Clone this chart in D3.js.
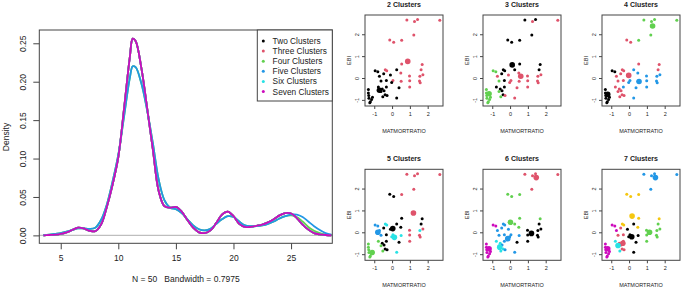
<!DOCTYPE html>
<html>
<head>
<meta charset="utf-8">
<script src="https://cdn.jsdelivr.net/npm/d3@7"></script>
<style>
  body { margin: 0; background: #fff; }
  text { font-family: "Liberation Sans", Arial, sans-serif; fill: #222; }
</style>
</head>
<body>
<svg id="chart" width="685" height="288"></svg>
<script>
// ---- density plot data ----
const densX = [3.5, 4, 4.5, 5, 5.5, 6, 6.5, 7, 7.5, 8, 8.5, 9, 9.5, 10, 10.5, 11, 11.25, 11.5, 12, 12.5, 13, 13.5, 14, 14.5, 15, 15.5, 16, 16.5, 17, 17.5, 18, 18.5, 19, 19.5, 20, 20.5, 21, 21.5, 22, 22.5, 23, 23.5, 24, 24.5, 25, 25.5, 26, 26.5, 27, 27.5, 28, 28.5];
const densSeven = [0, 0.0005, 0.001, 0.002, 0.004, 0.007, 0.010, 0.009, 0.006, 0.0055, 0.014, 0.037, 0.066, 0.102, 0.165, 0.232, 0.256, 0.253, 0.218, 0.166, 0.112, 0.058, 0.038, 0.036, 0.037, 0.031, 0.020, 0.010, 0.004, 0.003, 0.0065, 0.016, 0.027, 0.031, 0.025, 0.015, 0.011, 0.011, 0.0125, 0.014, 0.017, 0.021, 0.026, 0.029, 0.0285, 0.0225, 0.014, 0.0075, 0.003, 0.0013, 0.0005, 0.0002];
const densFive = [0, 0.001, 0.002, 0.003, 0.005, 0.007, 0.009, 0.009, 0.0085, 0.010, 0.020, 0.040, 0.070, 0.105, 0.155, 0.205, 0.220, 0.219, 0.198, 0.163, 0.120, 0.073, 0.046, 0.036, 0.034, 0.029, 0.021, 0.013, 0.008, 0.0065, 0.0085, 0.015, 0.021, 0.025, 0.024, 0.018, 0.013, 0.012, 0.012, 0.013, 0.015, 0.018, 0.022, 0.025, 0.027, 0.027, 0.024, 0.018, 0.012, 0.007, 0.003, 0.001];
const densFour = [0, 0.001, 0.002, 0.003, 0.005, 0.007, 0.009, 0.009, 0.0085, 0.010, 0.020, 0.040, 0.070, 0.105, 0.155, 0.205, 0.220, 0.219, 0.198, 0.163, 0.120, 0.073, 0.046, 0.036, 0.034, 0.029, 0.021, 0.013, 0.008, 0.0065, 0.0085, 0.015, 0.021, 0.025, 0.024, 0.018, 0.013, 0.012, 0.012, 0.013, 0.015, 0.018, 0.022, 0.025, 0.026, 0.024, 0.018, 0.011, 0.006, 0.003, 0.001, 0.0003];
const densTwo = densSeven;
const densThree = densSeven;
const densSix = densSeven;

const seriesNames = ['Two Clusters', 'Three Clusters', 'Four Clusters', 'Five Clusters', 'Six Clusters', 'Seven Clusters'];
const seriesValues = [densTwo, densThree, densFour, densFive, densSix, densSeven];
const palette = ['#000000', '#DF536B', '#61D04F', '#2297E6', '#28E2E5', '#CD0BBC', '#F5C710'];
const densXTicks = [5, 10, 15, 20, 25];
const densYTicks = [0, 0.05, 0.10, 0.15, 0.20, 0.25];

// ---- scatter data: MATMORTRATIO (x) vs EBI (y), 50 countries ----
const ptX = [0.83, 1.26, 1.43, 2.68, 1.22, -0.13, 0.09, 0.54, 0.54, 1.69, 1.63, 1.73, 1.56, 0.98, 0.99, 1.54, 1.58, 0.99, 0.51, 0.49, 0.26, -0.38, -0.30, -0.09, 0.05, -0.47, -0.71, -0.32, -0.02, 0.39, 0.26, -0.62, -0.32, -0.77, -0.55, -0.62, -0.45, -0.39, -0.52, -0.28, -0.95, -0.80, -1.33, -1.33, -1.31, -1.30, -1.22, -1.15, -1.25, -1.10];
const ptY = [2.65, 2.58, 2.68, 2.64, 1.97, 1.74, 1.64, 1.73, 0.64, 0.62, 0.38, 0.15, 0.08, 0.09, -0.12, -0.14, -0.22, -0.41, -0.15, 0.23, 0.38, 0.38, 0.33, 0.14, -0.11, 0.20, 0.08, -0.11, -0.20, -0.45, -0.91, -0.14, -0.41, -0.41, -0.50, -0.62, -0.58, -0.76, -0.86, -0.80, 0.33, 0.29, -0.53, -0.68, -0.80, -0.92, -1.08, -0.98, -1.13, -0.88];

// cluster membership per panel (1 = black, 2 = red, 3 = green, 4 = blue, 5 = cyan, 6 = magenta, 7 = yellow)
const lab2 = [2,2,2,2,2, 2,2,2, 2,2,2,2,2,2,2,2,2,2,2,2, 1,2,2,1,2,1,1,1,1,1,1,1, 1,1,1,1,1,1,1,1, 1,1, 1,1,1,1,1,1,1,1];
const lab3 = [1,2,1,2,1, 1,1,1, 1,1,1,2,2,2,2,2,2,2,2,2, 1,1,1,2,2,1,2,1,2,2,2,3, 1,1,1,3,1,1,3,2, 3,3, 3,3,3,3,3,3,3,3];
const lab4 = [3,3,3,3,3, 2,2,3, 2,2,2,4,4,4,4,4,4,4,4,4, 4,2,2,2,4,2,2,2,4,4,4,2, 4,2,2,2,2,2,2,2, 1,1, 1,1,1,1,1,1,1,1];
const lab5 = [2,2,2,2,2, 1,1,2, 1,1,1,2,5,2,2,2,2,2,5,1, 1,5,5,1,5,1,4,1,5,1,5,4, 1,3,1,3,1,1,3,1, 4,4, 3,3,3,3,3,3,3,3];
const lab6 = [2,2,2,2,2, 3,3,3, 3,3,1,1,1,1,1,1,1,1,4,3, 3,4,4,4,4,4,4,4,4,1,4,4, 4,5,5,5,4,5,5,4, 6,6, 6,6,6,6,6,6,6,6];
const lab7 = [4,4,4,4,4, 7,7,7, 7,7,3,3,3,3,3,3,3,3,1,7, 1,7,7,1,1,2,6,2,1,1,1,2, 2,5,2,5,2,2,5,2, 6,6, 6,6,6,6,6,6,6,6];

// cluster centres (big dots): [x, y, cluster]
const cen2 = [[0.88, 0.76, 2], [-0.71, -0.56, 1]];
const cen3 = [[0.12, 0.60, 1], [0.60, 0.08, 2], [-1.18, -0.72, 3]];
const cen4 = [[1.32, 2.38, 3], [-0.02, 0.12, 2], [0.56, -0.16, 4], [-1.20, -0.75, 1]];
const cen5 = [[1.20, 0.88, 2], [0.04, 0.17, 1], [-0.80, 0.00, 4], [0.13, -0.23, 5], [-1.12, -0.92, 3]];
const cen6 = [[1.47, 2.50, 2], [0.02, 0.46, 3], [1.20, -0.05, 1], [-0.13, -0.29, 4], [-0.58, -0.68, 5], [-1.18, -0.75, 6]];
const cen7 = [[1.48, 2.50, 4], [0.17, 0.74, 7], [1.15, 0.00, 3], [0.15, -0.20, 1], [-0.35, -0.50, 2], [-0.62, -0.60, 5], [-1.20, -0.75, 6]];

const panelTitles = ['2 Clusters', '3 Clusters', '4 Clusters', '5 Clusters', '6 Clusters', '7 Clusters'];
const panelLabels = [lab2, lab3, lab4, lab5, lab6, lab7];
const panelCentres = [cen2, cen3, cen4, cen5, cen6, cen7];
const scatTicks = [-1, 0, 1, 2];

const svg = d3.select('#chart');
const boxColor = '#444';

// ================= density plot =================
const dm = { left: 39.3, right: 332.3, top: 30, bottom: 243.3 };
const dx = d3.scaleLinear().domain([3.14, 28.58]).range([dm.left, dm.right]);
const dy = d3.scaleLinear().domain([-0.0103, 0.2673]).range([dm.bottom, dm.top]);

const dens = svg.append('g');

svg.append('clipPath').attr('id', 'clipD')
    .append('rect').attr('x', dm.left).attr('y', dm.top)
    .attr('width', dm.right - dm.left).attr('height', dm.bottom - dm.top);

// zero line
dens.append('line')
    .attr('x1', dm.left).attr('x2', dm.right)
    .attr('y1', dy(0)).attr('y2', dy(0))
    .attr('stroke', '#bebebe').attr('stroke-width', 1.2);

const line = d3.line()
    .x((d, i) => dx(densX[i]))
    .y(d => dy(d))
    .curve(d3.curveCatmullRom.alpha(0.5));

dens.append('g').attr('clip-path', 'url(#clipD)')
    .selectAll('path')
    .data(seriesValues)
    .enter()
    .append('path')
    .attr('d', d => line(d))
    .attr('fill', 'none')
    .attr('stroke', (d, i) => palette[i])
    .attr('stroke-width', 1.8);

// axes
const dxAxis = d3.axisBottom(dx).tickValues(densXTicks).tickSize(6).tickPadding(5.5);
const gx = dens.append('g').attr('transform', `translate(0,${dm.bottom})`).call(dxAxis);
gx.select('.domain').remove();
gx.selectAll('line').attr('stroke', boxColor);
gx.selectAll('text').attr('font-size', 8.5).attr('fill', '#222');

const dyAxis = d3.axisLeft(dy).tickValues(densYTicks).tickSize(6).tickFormat(d3.format('.2f'));
const gy = dens.append('g').attr('transform', `translate(${dm.left},0)`).call(dyAxis);
gy.select('.domain').remove();
gy.selectAll('line').attr('stroke', boxColor);
gy.selectAll('text')
    .attr('font-size', 8.5).attr('fill', '#222')
    .attr('transform', 'rotate(-90)')
    .attr('text-anchor', 'middle')
    .attr('x', 0).attr('y', -13).attr('dy', 0);

dens.append('rect')
    .attr('x', dm.left).attr('y', dm.top)
    .attr('width', dm.right - dm.left).attr('height', dm.bottom - dm.top)
    .attr('fill', 'none').attr('stroke', boxColor).attr('stroke-width', 1);

dens.append('text')
    .attr('transform', 'translate(8.5,137) rotate(-90)')
    .attr('text-anchor', 'middle').attr('font-size', 8.5)
    .text('Density');

dens.append('text')
    .attr('x', (dm.left + dm.right) / 2).attr('y', 282)
    .attr('text-anchor', 'middle').attr('font-size', 8.5)
    .style('white-space', 'pre')
    .text('N = 50   Bandwidth = 0.7975');

// legend
const lg = dens.append('g').attr('transform', 'translate(257.3,30)');
lg.append('rect').attr('width', 75).attr('height', 71)
    .attr('fill', '#fff').attr('stroke', boxColor).attr('stroke-width', 1);
const items = lg.selectAll('.item').data(seriesNames).enter()
    .append('g').attr('class', 'item')
    .attr('transform', (d, i) => `translate(0,${11 + i * 10.1})`);
items.append('circle').attr('cx', 6).attr('cy', 0).attr('r', 1.5)
    .attr('fill', (d, i) => palette[i]);
items.append('text').attr('x', 15.3).attr('y', 3).attr('font-size', 8.3).text(d => d);

// ================= scatter panels =================
const colLeft = [365, 483, 602];
const rowTop = [15, 169.3];
const pw = 78, ph = 91;

panelTitles.forEach((title, p) => {
    const left = colLeft[p % 3];
    const top = rowTop[Math.floor(p / 3)];
    const g = svg.append('g');

    const x = d3.scaleLinear().domain([-1.52, 2.86]).range([left, left + pw]);
    const y = d3.scaleLinear().domain([-1.28, 2.88]).range([top + ph, top]);

    const labs = panelLabels[p];
    g.selectAll('.pt').data(ptX).enter()
        .append('circle').attr('class', 'pt')
        .attr('cx', d => x(d))
        .attr('cy', (d, i) => y(ptY[i]))
        .attr('r', 1.5)
        .attr('fill', (d, i) => palette[labs[i] - 1]);

    g.selectAll('.cen').data(panelCentres[p]).enter()
        .append('circle').attr('class', 'cen')
        .attr('cx', d => x(d[0])).attr('cy', d => y(d[1]))
        .attr('r', 2.8)
        .attr('fill', d => palette[d[2] - 1]);

    const ax = g.append('g').attr('transform', `translate(0,${top + ph})`)
        .call(d3.axisBottom(x).tickValues(scatTicks).tickSize(3).tickPadding(3)
            .tickFormat(d => String(d)));
    ax.select('.domain').remove();
    ax.selectAll('line').attr('stroke', boxColor);
    ax.selectAll('text').attr('font-size', 5.5).attr('fill', '#333');

    const ay = g.append('g').attr('transform', `translate(${left},0)`)
        .call(d3.axisLeft(y).tickValues(scatTicks).tickSize(3).tickFormat(d => String(d)));
    ay.select('.domain').remove();
    ay.selectAll('line').attr('stroke', boxColor);
    ay.selectAll('text')
        .attr('font-size', 5.5).attr('fill', '#333')
        .attr('transform', 'rotate(-90)')
        .attr('text-anchor', 'middle')
        .attr('x', 0).attr('y', -6).attr('dy', 0);

    g.append('rect')
        .attr('x', left).attr('y', top).attr('width', pw).attr('height', ph)
        .attr('fill', 'none').attr('stroke', boxColor).attr('stroke-width', 1);

    g.append('text')
        .attr('x', left + pw / 2).attr('y', top - 8)
        .attr('text-anchor', 'middle').attr('font-size', 7).attr('font-weight', 'bold')
        .text(title);

    g.append('text')
        .attr('x', left + pw / 2).attr('y', top + ph + 27)
        .attr('text-anchor', 'middle').attr('font-size', 5.5).attr('fill', '#333')
        .text('MATMORTRATIO');

    g.append('text')
        .attr('transform', `translate(${left - 14},${top + ph / 2}) rotate(-90)`)
        .attr('text-anchor', 'middle').attr('font-size', 5.5).attr('fill', '#333')
        .text('EBI');
});
</script>
</body>
</html>
